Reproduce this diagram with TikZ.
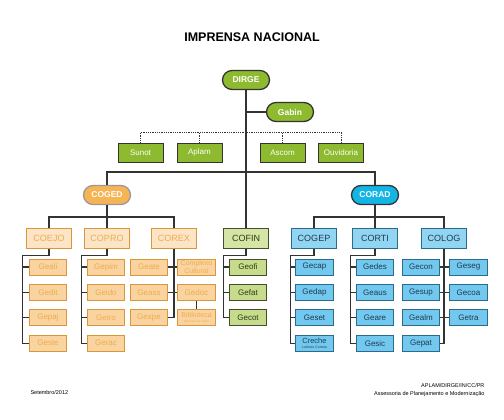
\documentclass[tikz,border=0pt]{standalone}
\usepackage{fontspec}
\setmainfont{Liberation Sans}
\usetikzlibrary{calc,positioning}
\definecolor{linha}{HTML}{333333}
\definecolor{verde}{HTML}{8DBA2E}
\definecolor{verdeclaro}{HTML}{D4E5A5}
\definecolor{verdemed}{HTML}{C6DC8C}
\definecolor{verdetxt}{HTML}{2E3B12}
\definecolor{laranja}{HTML}{F6B455}
\definecolor{pessego}{HTML}{FCE4C6}
\definecolor{pessegomed}{HTML}{F9D4A0}
\definecolor{laranjaborda}{HTML}{DC963A}
\definecolor{laranjatxt}{HTML}{F0AC4C}
\definecolor{ciano}{HTML}{12B5E4}
\definecolor{azulclaro}{HTML}{92D5F2}
\definecolor{azulmed}{HTML}{72C8EF}
\definecolor{azulborda}{HTML}{2B6C8A}
\definecolor{azultxt}{HTML}{1E3C52}
\tikzset{
  line cap=round,
  line join=round,
  conn/.style={draw=linha, line width=1.3pt},
  dotline/.style={draw=linha, line width=0.8pt, densely dotted},
  pill/.style={draw=linha, line width=1.3pt, rounded corners=9.5pt, minimum width=47pt,
    minimum height=19pt, inner sep=0pt, text=white, font=\bfseries\fontsize{8.5}{9}\selectfont},
  staff/.style={draw=linha, line width=0.8pt, fill=verde, text=white, minimum width=45pt,
    minimum height=19pt, inner sep=0pt, font=\fontsize{8}{9}\selectfont},
  coord/.style={line width=1pt, minimum width=45pt, minimum height=20pt, inner sep=0pt,
    font=\fontsize{9}{10}\selectfont},
  sub/.style={line width=1pt, minimum width=37.5pt, minimum height=16pt, inner sep=0pt,
    align=center, font=\fontsize{8}{8}\selectfont},
  cogedbox/.style={coord, draw=laranjaborda, fill=pessego, text=laranjatxt},
  cogedsub/.style={sub, draw=laranjaborda, fill=pessegomed, text=laranjatxt},
  cofinbox/.style={coord, draw=linha!80!verde, fill=verdeclaro, text=verdetxt},
  cofinsub/.style={sub, draw=linha!80!verde, fill=verdemed, text=verdetxt},
  coradbox/.style={coord, draw=azulborda, fill=azulclaro, text=azultxt},
  coradsub/.style={sub, draw=azulborda, fill=azulmed, text=azultxt}
}

\begin{document}
\begin{tikzpicture}[x=1pt, y=-1pt]
	\useasboundingbox (0,0) rectangle (504,420);

	% Title
	\node[font=\bfseries\fontsize{12.5}{14}\selectfont] (titulo) at (252,37) {IMPRENSA NACIONAL};

	% Direction and cabinet
	\node[pill, fill=verde] (dirge) at (246,80) {DIRGE};
	\node[pill, fill=verde] (gabin) at (290,112) {Gabin};

	% Staff offices, joined by a dotted bar
	\coordinate (pont) at (140,132);
	\foreach \nome/\x in {Sunot/140.5,Aplam/199.5,Ascom/282.5,Ouvidoria/341}
		\node[staff] (\nome) at (\x,152.5) {\nome};
	\draw[dotline] (Sunot.north) |- (Ouvidoria.north |- pont) -- (Ouvidoria.north);
	\foreach \nome in {Aplam,Ascom}
		\draw[dotline] (\nome.north) -- (\nome.north |- pont);

	% Coordinations
	\coordinate (eixo) at (246,172);
	\node[pill, fill=laranja, draw=gray!80] (coged) at (107,195) {COGED};
	\node[pill, fill=ciano] (corad) at (375,195) {CORAD};
	\node[cofinbox] (cofin) at (246,238) {COFIN};
	\draw[conn] (dirge.south) -- (cofin.north);
	\draw[conn] (gabin.west) -- (gabin.west -| dirge.south);
	\draw[conn] (coged.north) |- (eixo) -| (corad.north);

	% COGED branch
	\coordinate (cogedbar) at (107,217);
	\node[cogedbox] (coejo) at (49,238) {COEJO};
	\node[cogedbox] (copro) at (107,238) {COPRO};
	\node[cogedbox] (corex) at (174,238) {COREX};
	\draw[conn] (coged.south) -- (copro.north);
	\draw[conn] (coejo.north) |- (cogedbar) -| (corex.north);

	% CORAD branch
	\coordinate (coradbar) at (375,217);
	\node[coradbox] (cogep) at (314,238) {COGEP};
	\node[coradbox] (corti) at (375,238) {CORTI};
	\node[coradbox] (colog) at (444,238) {COLOG};
	\draw[conn] (corad.south) -- (corti.north);
	\draw[conn] (cogep.north) |- (coradbar) -| (colog.north);

	% COEJO
	\foreach \t [count=\i] in {Geali,Gedit,Gepaj,Geste}
		\node[cogedsub] (coejo-\i) at (48,{241.6+25.4*\i}) {\t};
	\draw[conn] (coejo.south) -- ++(0,7) -| ($(coejo-4.west)+(-6,0)$) -- (coejo-4.west);
	\foreach \i in {1,2,3}
		\draw[conn] (coejo-\i.west) -- ++(-6,0);

	% COPRO
	\foreach \t [count=\i] in {Gepim,Geido,Geiro,Gerac}
		\node[cogedsub] (copro-\i) at (106,{241.6+25.4*\i}) {\t};
	\draw[conn] (copro.south) -- ++(0,7) -| ($(copro-4.west)+(-5,0)$) -- (copro-4.west);
	\foreach \i in {1,2,3}
		\draw[conn] (copro-\i.west) -- ++(-5,0);

	% COREX
	\foreach \t [count=\i] in {Geate,Geass,Gexpe}
		\node[cogedsub] (corex-\i) at (149,{241.6+25.4*\i}) {\t};
	\node[cogedsub, font=\fontsize{7}{6.5}\selectfont] (cultural) at (196.5,267)
		{Complexo\\Cultural};
	\node[cogedsub] (gedoc) at (196.5,292.4) {Gedoc};
	\node[cogedsub, font=\fontsize{7}{6}\selectfont] (biblio) at (196.5,317.8)
		{Biblioteca\\[-1pt]{\fontsize{3}{3}\selectfont Machado de Assis}};
	\draw[conn] (corex.south) -- (corex.south |- corex-3.east) -- (corex-3.east);
	\foreach \i in {1,2}
		\draw[conn] (corex-\i.east) -- (corex-\i.east -| corex.south);
	\draw[conn] (cultural.west) -- (cultural.west -| corex.south);
	\draw[conn] (gedoc.west) -- (gedoc.west -| corex.south);
	\draw[conn] (gedoc.south) -- (biblio.north);

	% COFIN
	\foreach \t [count=\i] in {Geofi,Gefat,Gecot}
		\node[cofinsub] (cofin-\i) at (248,{241.6+25.4*\i}) {\t};
	\draw[conn] (cofin.south) -- ++(0,7) -| ($(cofin-3.west)+(-5,0)$) -- (cofin-3.west);
	\foreach \i in {1,2}
		\draw[conn] (cofin-\i.west) -- ++(-5,0);

	% COGEP
	\foreach \t [count=\i] in {Gecap,Gedap,Geset}
		\node[coradsub] (cogep-\i) at (314.5,{241.6+25.4*\i}) {\t};
	\node[coradsub, font=\fontsize{7.5}{6}\selectfont] (cogep-4) at (314.5,343.2)
		{Creche\\[-1pt]{\fontsize{3.5}{3.5}\selectfont Leôncio Correia}};
	\draw[conn] (cogep.south) -- ++(0,7) -| ($(cogep-4.west)+(-5,0)$) -- (cogep-4.west);
	\foreach \i in {1,2,3}
		\draw[conn] (cogep-\i.west) -- ++(-5,0);

	% CORTI
	\foreach \t [count=\i] in {Gedes,Geaus,Geare,Gesic}
		\node[coradsub] (corti-\i) at (375,{241.6+25.4*\i}) {\t};
	\draw[conn] (corti.south) -- ++(0,7) -| ($(corti-4.west)+(-5,0)$) -- (corti-4.west);
	\foreach \i in {1,2,3}
		\draw[conn] (corti-\i.west) -- ++(-5,0);

	% COLOG, units on both sides of the line
	\foreach \t [count=\i] in {Gecon,Gesup,Gealm,Gepat}
		\node[coradsub] (colog-\i) at (421,{241.6+25.4*\i}) {\t};
	\foreach \t [count=\i] in {Geseg,Gecoa,Getra}
		\node[coradsub] (cologd-\i) at (468.5,{241.6+25.4*\i}) {\t};
	\draw[conn] (colog.south) -- (colog.south |- colog-4.east) -- (colog-4.east);
	\foreach \i in {1,2,3} {
		\draw[conn] (colog-\i.east) -- (colog-\i.east -| colog.south);
		\draw[conn] (cologd-\i.west) -- (cologd-\i.west -| colog.south);
	}

	% Footer
	\node[anchor=west, font=\fontsize{5.5}{6.5}\selectfont] (data) at (27,393) {Setembro/2012};
	\node[anchor=east, align=right, font=\fontsize{5.5}{7.5}\selectfont] (setor) at (488,390)
		{APLAM/DIRGE/IN/CC/PR\\Assessoria de Planejamento e Modernização};
\end{tikzpicture}
\end{document}
